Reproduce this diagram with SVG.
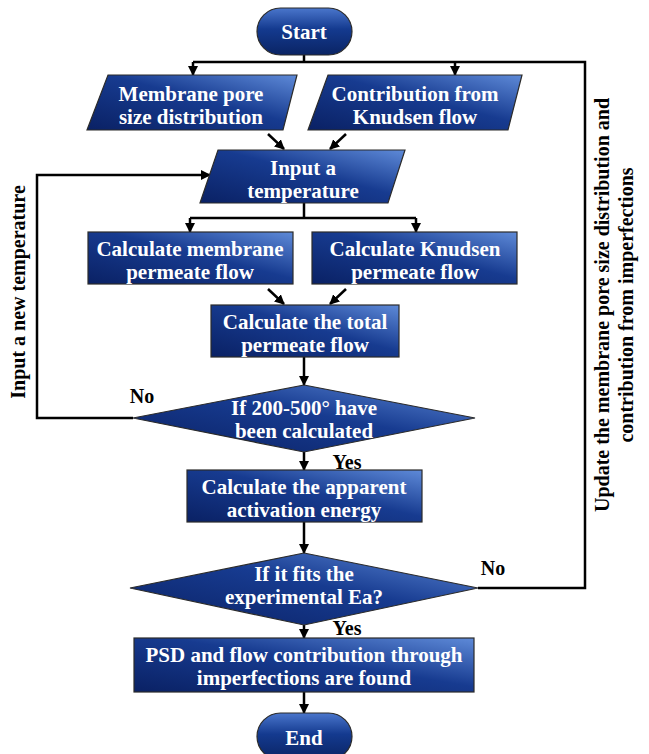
<svg xmlns="http://www.w3.org/2000/svg" width="649" height="754" viewBox="0 0 649 754">
<defs>
<linearGradient id="gbox" x1="0" y1="1" x2="1" y2="0">
<stop offset="0" stop-color="#0a2164"/>
<stop offset="0.55" stop-color="#173b90"/>
<stop offset="1" stop-color="#5e8ad8"/>
</linearGradient>
<linearGradient id="gpill" x1="0" y1="0" x2="0" y2="1">
<stop offset="0" stop-color="#4a76cc"/>
<stop offset="0.45" stop-color="#143a8f"/>
<stop offset="1" stop-color="#0a2464"/>
</linearGradient>
<marker id="ah" markerUnits="userSpaceOnUse" markerWidth="10" markerHeight="10" refX="9" refY="5" orient="auto">
<path d="M0,0 L10,5 L0,10 z" fill="#000"/>
</marker>
<style>
.n{fill:url(#gbox);stroke:#2b2b2b;stroke-width:1.2}
.p{fill:url(#gpill);stroke:#2b2b2b;stroke-width:1.2}
.t{fill:#fff;font-family:"Liberation Serif","DejaVu Serif",serif;font-weight:bold;font-size:21px;text-anchor:middle}
.l{fill:#000;font-family:"Liberation Serif","DejaVu Serif",serif;font-weight:bold;font-size:20px;text-anchor:middle}
.c{fill:none;stroke:#000;stroke-width:2.5}
.a{marker-end:url(#ah)}
</style>
</defs>
<rect width="649" height="754" fill="#fff"/>
<g id="connectors">
<path class="c" d="M304,55 V62"/>
<path class="c" d="M193,62 H585 V588 H478"/>
<path class="c a" d="M193,62 V75"/>
<path class="c a" d="M455,62 V75"/>
<path class="c a" d="M268,134 L284,149"/>
<path class="c a" d="M346,134 L330,149"/>
<path class="c" d="M304,203 V218"/>
<path class="c" d="M190,218 H416"/>
<path class="c a" d="M190,218 V232"/>
<path class="c a" d="M416,218 V232"/>
<path class="c a" d="M268,289 L284,304"/>
<path class="c a" d="M346,289 L330,304"/>
<path class="c a" d="M304,357 V385"/>
<path class="c a" d="M133,418 H37 V175 H210"/>
<path class="c a" d="M304,452 V470"/>
<path class="c a" d="M304,522 V553"/>
<path class="c a" d="M304,625 V638"/>
<path class="c a" d="M304,692 V713"/>
</g>
<g id="start">
<rect class="p" x="257" y="8" width="95" height="47" rx="23.5"/>
<text class="t" x="304" y="39">Start</text>
</g>
<g id="membrane-psd">
<path class="n" d="M108,75 H297 L283,130 H87 Z"/>
<text class="t" x="191" y="101">Membrane pore</text>
<text class="t" x="191" y="124">size distribution</text>
</g>
<g id="knudsen-contribution">
<path class="n" d="M328,75 H522 L508,130 H308 Z"/>
<text class="t" x="415" y="101">Contribution from</text>
<text class="t" x="415" y="124">Knudsen flow</text>
</g>
<g id="input-temperature">
<path class="n" d="M218,150 H405 L388,203 H200 Z"/>
<text class="t" x="303" y="175">Input a</text>
<text class="t" x="303" y="198">temperature</text>
</g>
<g id="calc-membrane">
<rect class="n" x="88" y="232" width="205" height="52"/>
<text class="t" x="190" y="256">Calculate membrane</text>
<text class="t" x="190" y="279">permeate flow</text>
</g>
<g id="calc-knudsen">
<rect class="n" x="312" y="232" width="205" height="52"/>
<text class="t" x="415" y="256">Calculate Knudsen</text>
<text class="t" x="415" y="279">permeate flow</text>
</g>
<g id="calc-total">
<rect class="n" x="211" y="305" width="188" height="52"/>
<text class="t" x="305" y="329">Calculate the total</text>
<text class="t" x="305" y="352">permeate flow</text>
</g>
<g id="decision-range">
<path class="n" d="M304,385 L475,418 L304,452 L133,418 Z"/>
<text class="t" x="304" y="415">If 200-500° have</text>
<text class="t" x="304" y="438">been calculated</text>
</g>
<g id="calc-activation">
<rect class="n" x="187" y="470" width="235" height="52"/>
<text class="t" x="304" y="494">Calculate the apparent</text>
<text class="t" x="304" y="517">activation energy</text>
</g>
<g id="decision-fit">
<path class="n" d="M304,553 L478,588 L304,625 L130,588 Z"/>
<text class="t" x="304" y="581">If it fits the</text>
<text class="t" x="304" y="604">experimental Ea?</text>
</g>
<g id="result">
<rect class="n" x="134" y="638" width="340" height="54"/>
<text class="t" x="304" y="662">PSD and flow contribution through</text>
<text class="t" x="304" y="685">imperfections are found</text>
</g>
<g id="end">
<rect class="p" x="257" y="713" width="95" height="47" rx="23.5"/>
<text class="t" x="304" y="745">End</text>
</g>
<g id="labels">
<text class="l" x="142" y="403">No</text>
<text class="l" x="347" y="469">Yes</text>
<text class="l" x="493" y="575">No</text>
<text class="l" x="347" y="635">Yes</text>
<text class="l" transform="translate(25,292) rotate(-90)">Input a new temperature</text>
<text class="l" transform="translate(609,305) rotate(-90)">Update the membrane pore size distribution and</text>
<text class="l" transform="translate(633,305) rotate(-90)">contribution from imperfections</text>
</g>
</svg>
